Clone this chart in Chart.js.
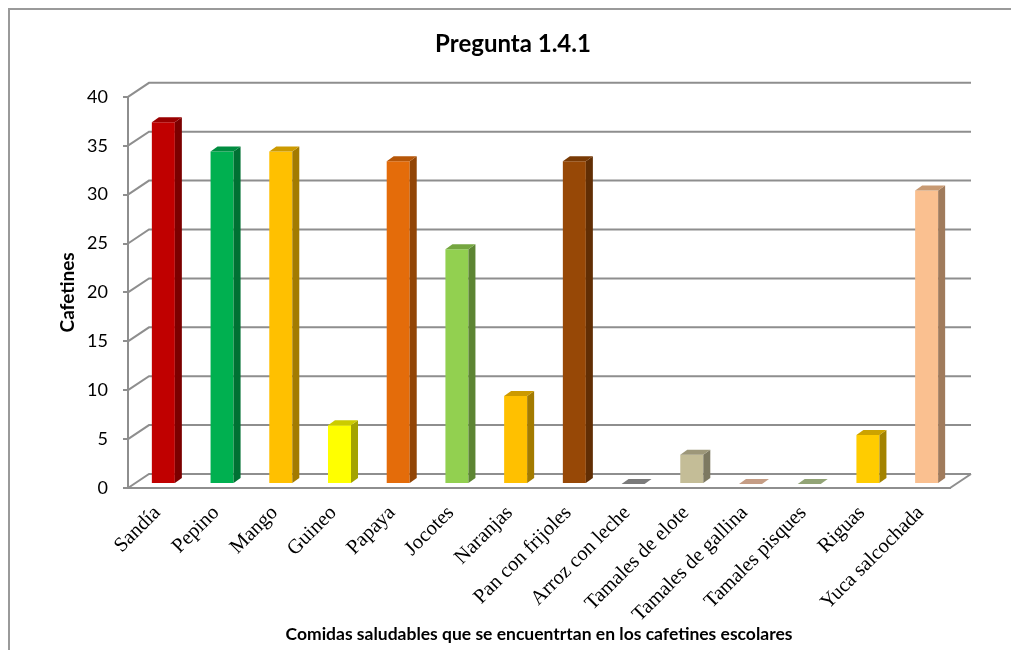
<!DOCTYPE html>
<html>
<head>
<meta charset="utf-8">
<script src="https://cdn.jsdelivr.net/npm/chart.js@4.4.1/dist/chart.umd.min.js"></script>
<style>
  html, body { margin: 0; padding: 0; background: #fff; }
  #wrap { position: relative; width: 1011px; height: 650px; overflow: hidden; background: #fff; }
  #frame { position: absolute; left: 8px; top: 8px; width: 1100px; height: 1000px; border: 2px solid #9a9a9a; box-sizing: border-box; }
  canvas { position: absolute; left: 0; top: 0; }
</style>
</head>
<body>
<div id="wrap">
  <div id="frame"></div>
  <canvas id="chart" width="1011" height="650"></canvas>
</div>
<script>
// Foods found in school cafeterias and number of cafeterias offering each
const categories = [
  'Sandía', 'Pepino', 'Mango', 'Guineo', 'Papaya', 'Jocotes', 'Naranjas',
  'Pan con frijoles', 'Arroz con leche', 'Tamales de elote', 'Tamales de gallina',
  'Tamales pisques', 'Riguas', 'Yuca salcochada'
];
const cafetines = [37, 34, 34, 6, 33, 24, 9, 33, 0, 3, 0, 0, 5, 30];
const yMin = 0;
const yMax = 40;
const yStep = 5;

// one fill colour per bar
const barColors = [
  '#C00000', '#00B050', '#FFC000', '#FFFF00', '#E46C0A', '#92D050', '#FFC000',
  '#974806', '#808080', '#C4BD97', '#CFA58C', '#9AAD7C', '#FFCC00', '#FAC090'
];

// 3D geometry: the floor/back wall recede up and to the right
const wallDepth = { dx: 21, dy: -14 };
const barShift = { dx: 6, dy: -4 };   // bars stand a little behind the front edge
const barDepth = { dx: 7, dy: -5 };   // thickness of each bar

function shade(hex, f) {
  const n = parseInt(hex.slice(1), 16);
  const r = Math.round(((n >> 16) & 255) * f);
  const g = Math.round(((n >> 8) & 255) * f);
  const b = Math.round((n & 255) * f);
  return `rgb(${r},${g},${b})`;
}

const box3d = {
  id: 'box3d',
  beforeDatasetsDraw(chart) {
    const { ctx, chartArea: a, scales: { y } } = chart;
    ctx.save();
    ctx.lineWidth = 2;
    ctx.strokeStyle = '#8e8e8e';
    ctx.lineJoin = 'miter';
    // side-wall diagonals and back-wall gridlines
    y.ticks.forEach(t => {
      const py = y.getPixelForValue(t.value);
      ctx.beginPath();
      ctx.moveTo(a.left, py);
      ctx.lineTo(a.left + wallDepth.dx, py + wallDepth.dy);
      ctx.lineTo(a.right + wallDepth.dx, py + wallDepth.dy);
      ctx.stroke();
    });
    // right edge of the floor
    const p0 = y.getPixelForValue(yMin);
    ctx.beginPath();
    ctx.moveTo(a.right, p0);
    ctx.lineTo(a.right + wallDepth.dx, p0 + wallDepth.dy);
    ctx.stroke();
    ctx.restore();

    ctx.save();
    ctx.translate(barShift.dx, barShift.dy);
  },
  afterDatasetsDraw(chart) {
    const ctx = chart.ctx;
    const meta = chart.getDatasetMeta(0);
    const colors = chart.data.datasets[0].backgroundColor;
    meta.data.forEach((bar, i) => {
      const c = colors[i];
      const l = bar.x - bar.width / 2;
      const r = bar.x + bar.width / 2;
      const top = bar.y;
      const base = bar.base;
      if (base - top > 0.5) {
        ctx.fillStyle = shade(c, 0.64);
        ctx.beginPath();
        ctx.moveTo(r, top);
        ctx.lineTo(r + barDepth.dx, top + barDepth.dy);
        ctx.lineTo(r + barDepth.dx, base + barDepth.dy);
        ctx.lineTo(r, base);
        ctx.closePath();
        ctx.fill();
      }
      ctx.fillStyle = base - top > 0.5 ? shade(c, 0.8) : shade(c, 0.95);
      ctx.beginPath();
      ctx.moveTo(l, top);
      ctx.lineTo(r, top);
      ctx.lineTo(r + barDepth.dx, top + barDepth.dy);
      ctx.lineTo(l + barDepth.dx, top + barDepth.dy);
      ctx.closePath();
      ctx.fill();
    });
    ctx.restore();
  }
};

new Chart(document.getElementById('chart'), {
  type: 'bar',
  data: {
    labels: categories,
    datasets: [{
      label: 'Cafetines',
      data: cafetines,
      backgroundColor: barColors,
      borderWidth: 0,
      barPercentage: 0.392,
      categoryPercentage: 1.0
    }]
  },
  options: {
    responsive: false,
    devicePixelRatio: 1,
    animation: false,
    layout: { padding: { left: 15, right: 0, top: 0, bottom: 0 } },
    plugins: {
      legend: { display: false },
      tooltip: { enabled: false },
      title: {
        display: true,
        text: 'Pregunta 1.4.1',
        color: '#000',
        font: { family: 'Lato', size: 24, weight: 'bold', lineHeight: 1.2 },
        padding: { top: 30, bottom: 38 }
      }
    },
    scales: {
      x: {
        offset: true,
        afterFit(scale) { scale.height = 162; },
        grid: { display: true, drawOnChartArea: false, drawTicks: false },
        border: { display: true, color: '#8e8e8e', width: 2 },
        ticks: {
          autoSkip: false,
          minRotation: 45,
          maxRotation: 45,
          padding: 13,
          color: '#000',
          font: { family: 'Liberation Serif', size: 20.5 }
        },
        title: {
          display: true,
          text: 'Comidas saludables que se encuentrtan en los cafetines escolares',
          color: '#000',
          font: { family: 'Lato', size: 17.5, weight: 'bold', lineHeight: 1.2 },
          padding: { top: 0, bottom: 5 }
        }
      },
      y: {
        min: yMin,
        max: yMax,
        afterFit(scale) { scale.width = 113; },
        grid: { drawOnChartArea: false, drawTicks: true, tickLength: 5, color: '#8e8e8e', lineWidth: 2 },
        border: { display: true, color: '#8e8e8e', width: 2 },
        ticks: {
          stepSize: yStep,
          padding: 15,
          color: '#000',
          font: { family: 'Lato', size: 18 }
        },
        title: {
          display: true,
          text: 'Cafetines',
          color: '#000',
          font: { family: 'Lato', size: 19, weight: 'bold', lineHeight: 1.2 },
          padding: { top: 41, bottom: 0 }
        }
      },
      // empty strip to the right of the floor
      yRight: {
        type: 'linear',
        position: 'right',
        min: 0,
        max: 1,
        afterFit(scale) { scale.width = 61; },
        grid: { display: false },
        border: { display: false },
        ticks: { display: false },
        title: { display: false }
      }
    }
  },
  plugins: [box3d]
});
</script>
</body>
</html>
